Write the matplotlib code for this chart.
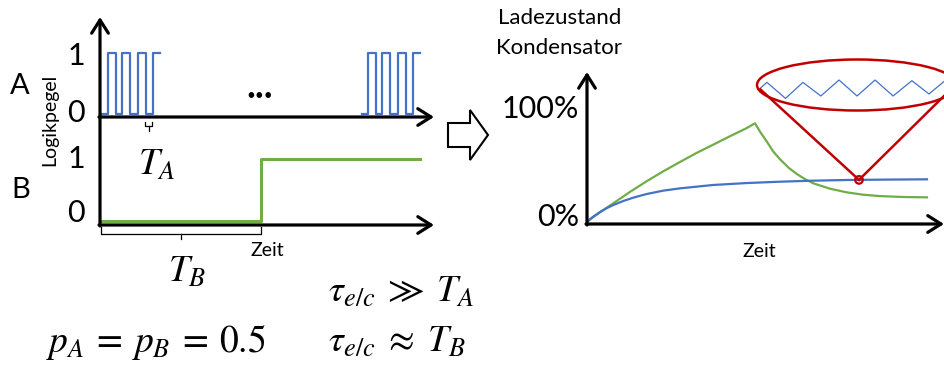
import matplotlib as mpl
import matplotlib.pyplot as plt
from matplotlib.patches import Ellipse, Circle, FancyArrow

mpl.rcParams['font.family'] = ['Lato', 'DejaVu Sans']
mpl.rcParams['mathtext.fontset'] = 'stix'

# signal A: two bursts of pulses (time units, T_B = 10)
a1_t = [0.1, 0.52, 0.98, 1.39, 1.86, 2.34, 2.86, 3.31, 3.73]
a1_v = [0, 1, 0, 1, 0, 1, 0, 1, 1]
a2_t = [16.25, 16.66, 17.12, 17.53, 18.01, 18.49, 19.0, 19.46, 19.87]
a2_v = [0, 1, 0, 1, 0, 1, 0, 1, 1]
# signal B: one step
b_t = [0.1, 10.0, 19.87]
b_v = [0, 1, 1]

# capacitor charge (% over normalised time)
blue_t = [0, .018, .037, .057, .077, .106, .136, .175, .224, .273, .371, .470,
          .568, .666, .764, .862, 1.0]
blue_y = [0, 4.4, 8.2, 11.8, 14.7, 18.2, 21.2, 24.4, 27.4, 29.4, 32.4, 34.1,
          35.3, 36.2, 36.8, 37.1, 37.4]
green_t = [0, .037, .077, .126, .175, .224, .273, .322, .371, .420, .470, .494,
           .509, .529, .548, .568, .593, .617, .642, .666, .715, .764, .813,
           .862, .931, 1.0]
green_y = [0, 8.2, 16.2, 26.2, 35.6, 44.4, 52.6, 60.6, 67.9, 75.3, 82.6, 86.8,
           79.4, 70.6, 61.8, 55.0, 47.6, 42.1, 37.4, 33.8, 29.1, 25.9, 23.8,
           22.6, 21.8, 21.5]
# ripple shown in the zoom
ripple_t = [0, 0.44, 1.47, 2.44, 3.43, 4.44, 5.44, 6.44, 7.44, 8.48, 9.43, 10.32]
ripple_v = [0.45, 0.86, -0.08, 0.86, 0.06, 1, 0.06, 1, 0.06, 0.96, 0.18, 0.96]
zoom_point = (0.80, 36.9)

BLUE = '#4472C4'
GREEN = '#70AD47'
RED = '#C00000'
W, H = 945, 365

fig = plt.figure(figsize=(W / 100, H / 100), dpi=100)


def px_axes(x1, y1, x2, y2):
    ax = fig.add_axes([x1 / W, 1 - y2 / H, (x2 - x1) / W, (y2 - y1) / H])
    ax.set_axis_off()
    ax.patch.set_alpha(0)
    return ax


axA = px_axes(100, 17, 434, 117)
axA.set_xlim(0, 20.75)
axA.set_ylim(-0.05, 1.58)
axA.plot(a1_t, a1_v, drawstyle='steps-post', color=BLUE, lw=1.6)
axA.plot(a2_t, a2_v, drawstyle='steps-post', color=BLUE, lw=1.6)

axB = px_axes(100, 130, 434, 225)
axB.set_xlim(0, 20.75)
axB.set_ylim(-0.065, 1.47)
axB.plot(b_t, b_v, drawstyle='steps-post', color=GREEN, lw=2.2)

axC = px_axes(587, 72, 945, 224)
axC.set_xlim(0, 1.053)
axC.set_ylim(-2, 132)
axC.plot(green_t, green_y, color=GREEN, lw=1.6)
axC.plot(blue_t, blue_y, color=BLUE, lw=1.6)

axR = px_axes(759, 78, 945, 100)
axR.set_xlim(0, 10.32)
axR.set_ylim(-0.176, 1.118)
axR.plot(ripple_t, ripple_v, color=BLUE, lw=0.9, clip_on=False)

# overlay in pixel coordinates for axes arrows and annotations
ov = px_axes(0, 0, W, H)
ov.set_xlim(0, W)
ov.set_ylim(H, 0)
ov.set_zorder(5)

arr = dict(arrowstyle='->,head_length=0.95,head_width=0.6', lw=2.3,
           color='k', shrinkA=0, shrinkB=0)
for start, tip in [((100, 226), (100, 17)), ((99, 117), (434, 117)),
                   ((99, 225), (434, 225)), ((587, 225), (587, 72)),
                   ((586, 224), (944, 224))]:
    ov.annotate('', xy=tip, xytext=start, arrowprops=arr)

txt = dict(ha='center', va='baseline', color='k')
ov.text(76, 65, '1', fontsize=22, **txt)
ov.text(76, 122, '0', fontsize=22, **txt)
ov.text(76, 168, '1', fontsize=22, **txt)
ov.text(76, 222, '0', fontsize=22, **txt)
ov.text(20, 94, 'A', fontsize=21, **txt)
ov.text(21, 198, 'B', fontsize=21, **txt)
ov.text(50, 120, 'Logikpegel', fontsize=14, rotation=90, ha='center', va='center')
ov.text(260, 100, '•••', fontsize=11, **txt)
ov.text(267, 256, 'Zeit', fontsize=14, **txt)
ov.text(759, 257, 'Zeit', fontsize=14, **txt)
ov.text(560, 24, 'Ladezustand', fontsize=16, **txt)
ov.text(559, 54, 'Kondensator', fontsize=16, **txt)
ov.text(579, 118, '100%', fontsize=22, ha='right', va='baseline')
ov.text(579, 226, '0%', fontsize=22, ha='right', va='baseline')

# brackets for T_A and T_B
ov.plot([145, 145, 152, 152], [122, 126, 126, 122], color='k', lw=0.9)
ov.plot([148.5, 148.5], [126, 131], color='k', lw=0.9)
ov.plot([101, 101, 261, 261], [227, 234, 234, 227], color='k', lw=0.9)
ov.plot([181, 181], [234, 239], color='k', lw=0.9)

ov.text(157, 164, '$T_A$', fontsize=27, ha='center', va='center')
ov.text(187, 271, '$T_B$', fontsize=27, ha='center', va='center')
ov.text(328, 302, r'$\tau_{e/c} \;\gg\; T_A$', fontsize=27, ha='left', va='baseline')
ov.text(328, 352, r'$\tau_{e/c} \;\approx\; T_B$', fontsize=27, ha='left', va='baseline')
ov.text(46, 352, r'$p_A \:=\: p_B \:=\: 0.5$', fontsize=27, ha='left', va='baseline')

# hollow arrow between panels
ov.add_patch(FancyArrow(448, 135, 40, 0, width=24, head_width=50, head_length=18,
                        length_includes_head=True, fc='white', ec='k', lw=1.5))

# zoom cone
tip = ov.transData.inverted().transform(axC.transData.transform(zoom_point))
ov.add_patch(Ellipse((857, 85), 200, 51, fill=False, ec=RED, lw=1.8))
ov.plot([760.5, tip[0]], [89.5, tip[1]], color=RED, lw=1.8)
ov.plot([945, tip[0]], [95, tip[1]], color=RED, lw=1.8)
ov.add_patch(Circle(tip, 3.8, fill=False, ec=RED, lw=1.6))

fig.savefig('out.png', dpi=100)
